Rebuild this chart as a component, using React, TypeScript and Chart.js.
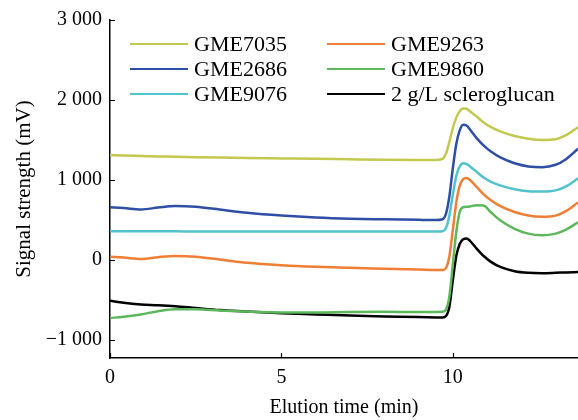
import React, { useEffect, useRef } from "react";
import { Chart, registerables } from "chart.js";

Chart.register(...registerables);

const times = [0, 0.4, 0.9, 1.4, 1.9, 2.5, 3.2, 4, 5, 6, 7, 8, 9, 9.5, 9.7, 9.8, 9.9, 10.0, 10.1, 10.2, 10.3, 10.4, 10.5, 10.7, 10.9, 11.1, 11.4, 11.8, 12.2, 12.6, 13.0, 13.3, 13.65];

const gme7035 = [1310, 1305, 1300, 1295, 1290, 1285, 1280, 1275, 1270, 1265, 1258, 1252, 1250, 1250, 1265, 1330, 1480, 1650, 1780, 1860, 1895, 1890, 1860, 1790, 1720, 1665, 1605, 1550, 1515, 1500, 1510, 1560, 1660];
const gme2686 = [660, 650, 632, 655, 675, 665, 630, 590, 555, 530, 515, 508, 502, 500, 510, 580, 800, 1150, 1450, 1620, 1690, 1680, 1630, 1520, 1430, 1360, 1280, 1210, 1170, 1160, 1190, 1260, 1390];
const gme9076 = [360, 360, 358, 358, 358, 357, 357, 356, 356, 355, 355, 355, 355, 355, 360, 400, 560, 820, 1050, 1170, 1210, 1200, 1170, 1100, 1030, 980, 930, 885, 860, 855, 870, 920, 1020];
const gme9263 = [40, 30, 12, 35, 50, 40, 5, -35, -65, -85, -98, -108, -118, -125, -125, -100, 50, 380, 720, 930, 1010, 1025, 1000, 910, 820, 750, 670, 600, 555, 540, 555, 610, 720];
const gme9860 = [-725, -710, -680, -640, -615, -615, -630, -645, -655, -655, -650, -648, -650, -650, -648, -620, -450, -50, 350, 600, 660, 665, 670, 685, 680, 600, 490, 390, 330, 310, 330, 380, 470];
const scleroglucan = [-510, -535, -555, -565, -578, -600, -625, -645, -665, -680, -695, -705, -712, -718, -720, -700, -580, -250, 50, 200, 260, 270, 240, 140, 50, -20, -90, -140, -160, -165, -160, -155, -150];

const seriesNames = ["GME7035", "GME9263", "GME2686", "GME9860", "GME9076", "2 g/L scleroglucan"];
const seriesValues = [gme7035, gme9263, gme2686, gme9860, gme9076, scleroglucan];
const seriesColors = ["#c3c94f", "#f07f35", "#2f4fa6", "#5cb85a", "#52c2cc", "#000000"];

const yTicks = [-1000, 0, 1000, 2000, 3000];
const xTicks = [0, 5, 10];

const SERIF = "'Liberation Serif', 'Times New Roman', serif";

function fmt(v: number): string {
  const s = Math.abs(v) >= 1000 ? String(Math.abs(v)).replace(/\B(?=(\d{3})+(?!\d))/g, " ") : String(Math.abs(v));
  return (v < 0 ? "\u2212" : "") + s;
}

const inwardTicks = {
  id: "inwardTicks",
  afterDraw(chart: any) {
    const ctx = chart.ctx;
    const xs = chart.scales.x;
    const ys = chart.scales.y;
    const { left, bottom } = chart.chartArea;
    ctx.save();
    ctx.strokeStyle = "#000";
    ctx.lineWidth = 1.2;
    ctx.beginPath();
    xTicks.forEach((t) => {
      const px = Math.round(xs.getPixelForValue(t)) + 0.5;
      ctx.moveTo(px, bottom);
      ctx.lineTo(px, bottom - 5);
    });
    yTicks.forEach((t) => {
      const py = Math.round(ys.getPixelForValue(t)) + 0.5;
      ctx.moveTo(left, py);
      ctx.lineTo(left + 5, py);
    });
    ctx.stroke();
    ctx.restore();
  },
};

const customLegend = {
  id: "customLegend",
  afterDraw(chart: any) {
    const ctx = chart.ctx;
    ctx.save();
    ctx.font = `22px ${SERIF}`;
    ctx.textBaseline = "middle";
    ctx.textAlign = "left";
    const colX = [130, 327];
    const rowY = [44, 69, 94];
    chart.data.datasets.forEach((ds: any, i: number) => {
      const col = i % 2;
      const row = Math.floor(i / 2);
      const x = colX[col];
      const y = rowY[row];
      ctx.strokeStyle = ds.borderColor;
      ctx.lineWidth = 2;
      ctx.beginPath();
      ctx.moveTo(x, y);
      ctx.lineTo(x + 58, y);
      ctx.stroke();
      ctx.fillStyle = "#000";
      ctx.fillText(ds.label, x + 64, y + 1);
    });
    ctx.restore();
  },
};

export default function App() {
  const ref = useRef<HTMLCanvasElement | null>(null);

  useEffect(() => {
    document.body.style.margin = "0";
    const canvas = ref.current;
    if (!canvas) return;
    const chart = new Chart(canvas, {
      type: "line",
      data: {
        datasets: seriesNames.map((name, i) => ({
          label: name,
          data: times.map((t, j) => ({ x: t, y: seriesValues[i][j] })),
          borderColor: seriesColors[i],
          backgroundColor: seriesColors[i],
          borderWidth: 2.5,
          pointRadius: 0,
          cubicInterpolationMode: "monotone" as const,
          fill: false,
        })),
      },
      plugins: [inwardTicks, customLegend],
      options: {
        animation: false,
        responsive: false,
        maintainAspectRatio: false,
        layout: { padding: { top: 20, right: 0, left: 0, bottom: 0 } },
        plugins: {
          legend: { display: false },
          tooltip: { enabled: false },
        },
        scales: {
          x: {
            type: "linear",
            min: 0,
            max: 13.65,
            border: { display: true, color: "#000", width: 1.5 },
            grid: { display: false, drawTicks: false },
            afterBuildTicks: (scale: any) => {
              scale.ticks = xTicks.map((v) => ({ value: v }));
            },
            ticks: {
              color: "#000",
              font: { family: SERIF, size: 20 },
              padding: 8,
              maxRotation: 0,
              autoSkip: false,
              callback: (v: any) => String(v),
            },
            title: {
              display: true,
              text: "Elution time (min)",
              color: "#000",
              font: { family: SERIF, size: 20 },
              padding: { top: 0, bottom: 0 },
            },
            afterFit: (scale: any) => {
              scale.height = 62;
            },
          },
          y: {
            type: "linear",
            min: -1225,
            max: 3000,
            border: { display: true, color: "#000", width: 1.5 },
            grid: { display: false, drawTicks: false },
            afterBuildTicks: (scale: any) => {
              scale.ticks = yTicks.map((v) => ({ value: v }));
            },
            ticks: {
              color: "#000",
              font: { family: SERIF, size: 20 },
              padding: 8,
              autoSkip: false,
              callback: (v: any) => fmt(Number(v)),
            },
            title: {
              display: true,
              text: "Signal strength (mV)",
              color: "#000",
              font: { family: SERIF, size: 21 },
              padding: { top: 12, bottom: 0 },
            },
            afterFit: (scale: any) => {
              scale.width = 110;
            },
          },
        },
      },
    });
    return () => chart.destroy();
  }, []);

  return (
    <div style={{ width: 578, height: 420 }}>
      <canvas ref={ref} width={578} height={420} style={{ display: "block" }} />
    </div>
  );
}
